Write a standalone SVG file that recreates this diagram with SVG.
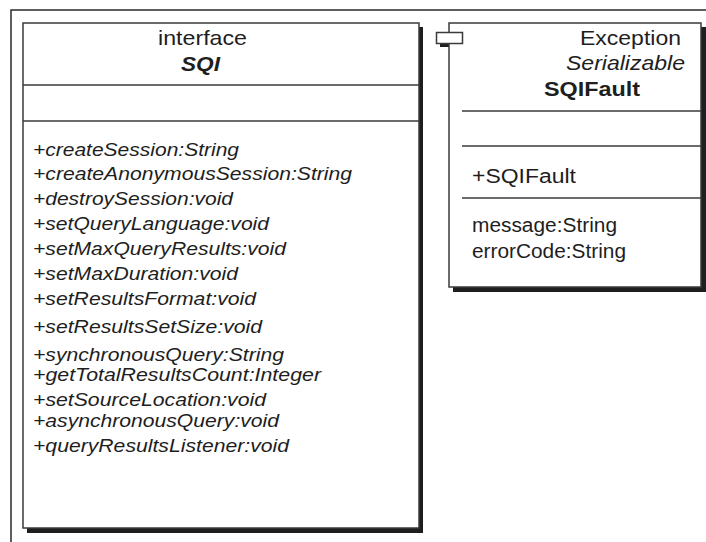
<svg xmlns="http://www.w3.org/2000/svg" width="706" height="542" viewBox="0 0 706 542">
<style>
.frame{fill:none;stroke:#2a2a2a;stroke-width:1.5}
.box{fill:#fff;stroke:#3a3a3a;stroke-width:1.5}
.shadow{fill:#1e1e1e}
.sep{stroke:#3a3a3a;stroke-width:1.5}
text{font-family:"Liberation Sans",Arial,Helvetica,sans-serif;fill:#1e1e1e}
.hdr{font-size:21px}
.op{font-size:19px;font-style:italic}
.attr{font-size:20px}
</style>
<rect width="706" height="542" fill="#fff"/>
<rect class="frame" x="11" y="10" width="800" height="600"/>
<g id="SQI">
<rect class="shadow" x="27" y="27" width="396" height="506"/>
<rect class="box" x="23" y="23" width="396" height="505"/>
<line class="sep" x1="23" y1="85" x2="419" y2="85"/>
<line class="sep" x1="23" y1="121" x2="419" y2="121"/>
<text class="hdr" x="158" y="45" textLength="89" lengthAdjust="spacingAndGlyphs">interface</text>
<text x="181" y="70.5" font-size="20" font-weight="bold" font-style="italic" textLength="39" lengthAdjust="spacingAndGlyphs">SQI</text>
<text class="op" x="33" y="156" textLength="206" lengthAdjust="spacingAndGlyphs">+createSession:String</text>
<text class="op" x="33" y="180" textLength="319" lengthAdjust="spacingAndGlyphs">+createAnonymousSession:String</text>
<text class="op" x="33" y="205" textLength="200" lengthAdjust="spacingAndGlyphs">+destroySession:void</text>
<text class="op" x="33" y="230" textLength="236" lengthAdjust="spacingAndGlyphs">+setQueryLanguage:void</text>
<text class="op" x="33" y="255" textLength="253" lengthAdjust="spacingAndGlyphs">+setMaxQueryResults:void</text>
<text class="op" x="33" y="280" textLength="205" lengthAdjust="spacingAndGlyphs">+setMaxDuration:void</text>
<text class="op" x="33" y="305" textLength="223" lengthAdjust="spacingAndGlyphs">+setResultsFormat:void</text>
<text class="op" x="33" y="333" textLength="229" lengthAdjust="spacingAndGlyphs">+setResultsSetSize:void</text>
<text class="op" x="33" y="361" textLength="251" lengthAdjust="spacingAndGlyphs">+synchronousQuery:String</text>
<text class="op" x="33" y="381" textLength="288" lengthAdjust="spacingAndGlyphs">+getTotalResultsCount:Integer</text>
<text class="op" x="33" y="406" textLength="233" lengthAdjust="spacingAndGlyphs">+setSourceLocation:void</text>
<text class="op" x="33" y="427" textLength="246" lengthAdjust="spacingAndGlyphs">+asynchronousQuery:void</text>
<text class="op" x="33" y="452" textLength="256" lengthAdjust="spacingAndGlyphs">+queryResultsListener:void</text>
</g>
<g id="SQIFault">
<rect class="shadow" x="440" y="36" width="26" height="11"/>
<rect class="shadow" x="453" y="27" width="253" height="265"/>
<rect class="box" x="449" y="23" width="252" height="264"/>
<rect class="box" x="436.5" y="32.5" width="26" height="11"/>
<line class="sep" x1="462" y1="111" x2="701" y2="111"/>
<line class="sep" x1="462" y1="146" x2="701" y2="146"/>
<line class="sep" x1="462" y1="198" x2="701" y2="198"/>
<text class="hdr" x="580" y="45" textLength="101" lengthAdjust="spacingAndGlyphs">Exception</text>
<text class="hdr" x="566" y="70" font-style="italic" textLength="119" lengthAdjust="spacingAndGlyphs">Serializable</text>
<text class="hdr" x="544" y="96" font-weight="bold" textLength="96" lengthAdjust="spacingAndGlyphs">SQIFault</text>
<text class="attr" x="472" y="183" textLength="104" lengthAdjust="spacingAndGlyphs">+SQIFault</text>
<text class="attr" x="472" y="232" textLength="145" lengthAdjust="spacingAndGlyphs">message:String</text>
<text class="attr" x="472" y="258" textLength="154" lengthAdjust="spacingAndGlyphs">errorCode:String</text>
</g>
<g id="connectors"/>
</svg>
